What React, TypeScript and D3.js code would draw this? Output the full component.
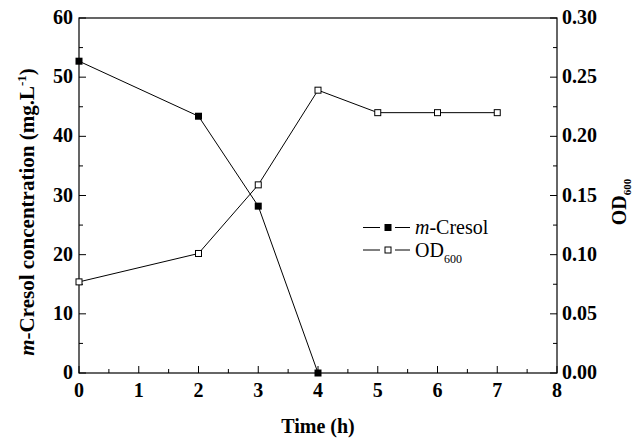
import * as d3 from "d3";
import { useEffect, useRef } from "react";

const times = [0, 2, 3, 4, 5, 6, 7];
const cresol = [52.7, 43.4, 28.2, 0];
const od600 = [0.077, 0.101, 0.159, 0.239, 0.22, 0.22, 0.22];
const xTicks = [0, 1, 2, 3, 4, 5, 6, 7, 8];
const leftTicks = [0, 10, 20, 30, 40, 50, 60];
const rightTicks = [0, 0.05, 0.1, 0.15, 0.2, 0.25, 0.3];

const W = 639;
const H = 439;
const FONT = "'Liberation Serif', 'Times New Roman', serif";

const App = () => {
  const svgRef = useRef<SVGSVGElement>(null);

  useEffect(() => {
    if (!svgRef.current) return;
    const svg = d3.select(svgRef.current);
    svg.selectAll("*").remove();

    const margin = { top: 18, right: 82, bottom: 66, left: 79 };
    const x = d3.scaleLinear().domain([0, 8]).range([margin.left, W - margin.right]);
    const yL = d3.scaleLinear().domain([0, 60]).range([H - margin.bottom, margin.top]);
    const yR = d3.scaleLinear().domain([0, 0.3]).range([H - margin.bottom, margin.top]);

    const x0 = x(0), x1 = x(8), y0 = yL(0), y1 = yL(60);

    // frame
    svg.append("rect")
      .attr("x", x0).attr("y", y1)
      .attr("width", x1 - x0).attr("height", y0 - y1)
      .attr("fill", "none").attr("stroke", "#000").attr("stroke-width", 1.2);

    const g = svg.append("g").attr("stroke", "#000").attr("stroke-width", 1);

    // bottom ticks (inward), major + minor
    d3.range(0, 8.01, 0.5).forEach(v => {
      const major = Number.isInteger(v);
      g.append("line")
        .attr("x1", x(v)).attr("x2", x(v))
        .attr("y1", y0).attr("y2", y0 - (major ? 7 : 4));
    });
    // left ticks
    d3.range(0, 60.01, 5).forEach(v => {
      const major = v % 10 === 0;
      g.append("line")
        .attr("x1", x0).attr("x2", x0 + (major ? 7 : 4))
        .attr("y1", yL(v)).attr("y2", yL(v));
    });
    // right ticks
    d3.range(0, 0.3001, 0.025).forEach((v, i) => {
      const major = i % 2 === 0;
      g.append("line")
        .attr("x1", x1).attr("x2", x1 - (major ? 7 : 4))
        .attr("y1", yR(v)).attr("y2", yR(v));
    });

    const labels = svg.append("g")
      .attr("font-family", FONT).attr("font-weight", "bold").attr("font-size", 20).attr("fill", "#000");

    xTicks.forEach(v => {
      labels.append("text")
        .attr("x", x(v)).attr("y", y0 + 24)
        .attr("text-anchor", "middle").text(v);
    });
    leftTicks.forEach(v => {
      labels.append("text")
        .attr("x", x0 - 6).attr("y", yL(v) + 6)
        .attr("text-anchor", "end").text(v);
    });
    rightTicks.forEach(v => {
      labels.append("text")
        .attr("x", x1 + 5).attr("y", yR(v) + 6)
        .attr("text-anchor", "start").text(v.toFixed(2));
    });

    // axis titles
    svg.append("text")
      .attr("x", x(4)).attr("y", 433)
      .attr("text-anchor", "middle")
      .attr("font-family", FONT).attr("font-weight", "bold").attr("font-size", 20)
      .text("Time (h)");

    const lt = svg.append("text")
      .attr("transform", `translate(34,212) rotate(-90)`)
      .attr("text-anchor", "middle")
      .attr("font-family", FONT).attr("font-weight", "bold").attr("font-size", 21);
    lt.append("tspan").attr("font-style", "italic").text("m");
    lt.append("tspan").text("-Cresol concentration (mg.L");
    lt.append("tspan").attr("font-size", 13).attr("dy", -8).text("-1");
    lt.append("tspan").attr("dy", 8).text(")");

    const rt = svg.append("text")
      .attr("transform", `translate(626,202) rotate(-90)`)
      .attr("text-anchor", "middle")
      .attr("font-family", FONT).attr("font-weight", "bold").attr("font-size", 20);
    rt.append("tspan").text("OD");
    rt.append("tspan").attr("font-size", 11).attr("dy", 5).text("600");

    // series
    const cresolData = cresol.map((v, i) => [times[i], v] as [number, number]);
    const odData = od600.map((v, i) => [times[i], v] as [number, number]);

    svg.append("path")
      .datum(cresolData)
      .attr("d", d3.line<[number, number]>().x(d => x(d[0])).y(d => yL(d[1])))
      .attr("fill", "none").attr("stroke", "#000").attr("stroke-width", 1);
    svg.append("path")
      .datum(odData)
      .attr("d", d3.line<[number, number]>().x(d => x(d[0])).y(d => yR(d[1])))
      .attr("fill", "none").attr("stroke", "#000").attr("stroke-width", 1);

    const s = 7;
    svg.selectAll(".cm").data(cresolData).join("rect")
      .attr("x", d => x(d[0]) - s / 2).attr("y", d => yL(d[1]) - s / 2)
      .attr("width", s).attr("height", s).attr("fill", "#000");
    svg.selectAll(".om").data(odData).join("rect")
      .attr("x", d => x(d[0]) - s / 2 + 0.5).attr("y", d => yR(d[1]) - s / 2 + 0.5)
      .attr("width", s - 1).attr("height", s - 1)
      .attr("fill", "#fff").attr("stroke", "#000").attr("stroke-width", 1);

    // legend
    const legend = [
      { name: "m", rest: "-Cresol", filled: true, y: 227.5 },
      { name: "OD", rest: "600", filled: false, y: 250 },
    ];
    legend.forEach(l => {
      [[363, 380], [395, 410]].forEach(([a, b]) => {
        svg.append("line")
          .attr("x1", a).attr("x2", b).attr("y1", l.y).attr("y2", l.y)
          .attr("stroke", "#000").attr("stroke-width", 1);
      });
      svg.append("rect")
        .attr("x", 388 - s / 2 + (l.filled ? 0 : 0.5)).attr("y", l.y - s / 2 + (l.filled ? 0 : 0.5))
        .attr("width", l.filled ? s : s - 1).attr("height", l.filled ? s : s - 1)
        .attr("fill", l.filled ? "#000" : "#fff").attr("stroke", l.filled ? "none" : "#000");
      const t = svg.append("text")
        .attr("x", 415).attr("y", l.y + 6.5)
        .attr("font-family", FONT).attr("font-size", 20);
      if (l.filled) {
        t.append("tspan").attr("font-style", "italic").text(l.name);
        t.append("tspan").text(l.rest);
      } else {
        t.append("tspan").text(l.name);
        t.append("tspan").attr("font-size", 12).attr("dy", 6).text(l.rest);
      }
    });
  }, []);

  return <svg ref={svgRef} width={W} height={H} style={{ position: "absolute", left: 0, top: 0, background: "#fff" }} />;
};

export default App;
